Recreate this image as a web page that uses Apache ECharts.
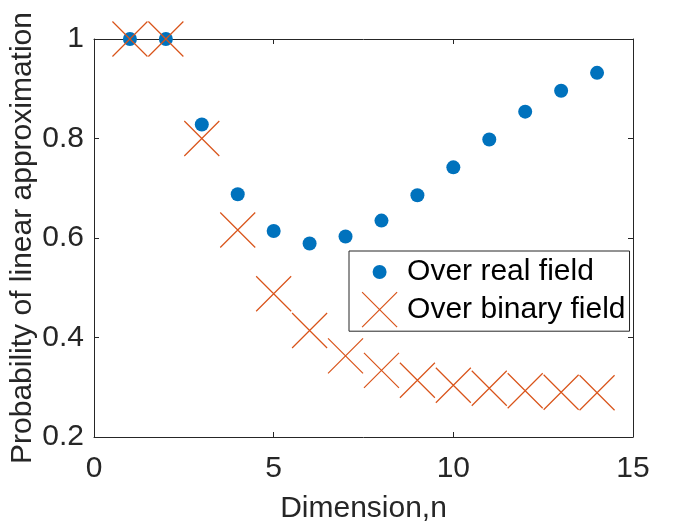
<!DOCTYPE html>
<html>
<head>
<meta charset="utf-8">
<script src="https://cdn.jsdelivr.net/npm/echarts@6/dist/echarts.min.js"></script>
<style>
html, body { margin: 0; padding: 0; background: #fff; }
#chart { width: 700px; height: 525px; }
</style>
</head>
<body>
<div id="chart"></div>
<script>
var dims = [1, 2, 3, 4, 5, 6, 7, 8, 9, 10, 11, 12, 13, 14];
var realField = [1.0, 1.0, 0.828, 0.688, 0.614, 0.589, 0.603, 0.635, 0.686, 0.742, 0.798, 0.854, 0.896, 0.932];
var binaryField = [1.0, 1.0, 0.800, 0.616, 0.488, 0.414, 0.363, 0.334, 0.314, 0.304, 0.298, 0.293, 0.290, 0.289];
var seriesNames = ['Over real field', 'Over binary field'];

var axisColor = '#262626';
var fontName = 'Liberation Sans, Arial, sans-serif';
var blue = '#0072BD', orange = '#D95319';
var clear = 'rgba(0,0,0,0)';

// x marker and a padded dot for the legend
var crossPath = 'path://M0,0L35,35M35,0L0,35';
var legendDot = 'path://M0,0M40,35M24.5,17.5A7,7,0,1,1,10.5,17.5A7,7,0,1,1,24.5,17.5Z';
var legendCross = 'path://M0,0L35,35M35,0L0,35M40,0';

function pairs(xs, ys) {
	var out = [];
	for (var i = 0; i < xs.length; i++) out.push([xs[i], ys[i]]);
	return out;
}

function xAx(pos, show) {
	return {
		type: 'value', position: pos, min: 0, max: 15, interval: 5,
		axisLine: { show: true, onZero: false, lineStyle: { color: axisColor, width: 1 } },
		axisTick: { show: true, inside: true, length: 5, lineStyle: { color: axisColor } },
		axisLabel: { show: show, margin: 17, fontSize: 30, color: axisColor, fontFamily: fontName },
		splitLine: { show: false },
		name: show ? 'Dimension,n' : '',
		nameLocation: 'middle', nameGap: 57, nameMoveOverlap: false,
		nameTextStyle: { fontSize: 30, color: axisColor, fontFamily: fontName }
	};
}
function yAx(pos, show) {
	return {
		type: 'value', position: pos, min: 0.2, max: 1, interval: 0.2,
		axisLine: { show: true, onZero: false, lineStyle: { color: axisColor, width: 1 } },
		axisTick: { show: true, inside: true, length: 5, lineStyle: { color: axisColor } },
		axisLabel: { show: show, margin: 10, fontSize: 30, color: axisColor, fontFamily: fontName },
		splitLine: { show: false },
		name: show ? 'Probability of linear approximation' : '',
		nameLocation: 'middle', nameGap: 56, nameMoveOverlap: false,
		nameTextStyle: { fontSize: 30, color: axisColor, fontFamily: fontName }
	};
}

var chart = echarts.init(document.getElementById('chart'));
chart.setOption({
	animation: false,
	backgroundColor: '#fff',
	grid: { left: 94, right: 67, top: 39, bottom: 88, containLabel: false, outerBoundsMode: 'none' },
	xAxis: [xAx('bottom', true), xAx('top', false)],
	yAxis: [yAx('left', true), yAx('right', false)],
	legend: {
		orient: 'vertical', left: 349, top: 251,
		padding: [3.5, 4, 3.5, 12.5], itemGap: 2,
		itemWidth: 40, itemHeight: 35,
		backgroundColor: '#fff', borderColor: axisColor, borderWidth: 1,
		textStyle: { fontSize: 30, color: '#000', fontFamily: fontName },
		data: [
			{ name: seriesNames[0], icon: legendDot, itemStyle: { color: blue, borderWidth: 0 } },
			{ name: seriesNames[1], icon: legendCross, itemStyle: { color: clear, borderColor: orange, borderWidth: 1.2 } }
		]
	},
	series: [
		{
			name: seriesNames[0], type: 'scatter', clip: false,
			symbol: 'circle', symbolSize: 14,
			itemStyle: { color: blue, opacity: 1 },
			data: pairs(dims, realField)
		},
		{
			name: seriesNames[1], type: 'scatter', clip: false,
			symbol: crossPath, symbolSize: 35,
			itemStyle: { color: clear, borderColor: orange, borderWidth: 1.2, opacity: 1 },
			data: pairs(dims, binaryField)
		}
	]
});
</script>
</body>
</html>
